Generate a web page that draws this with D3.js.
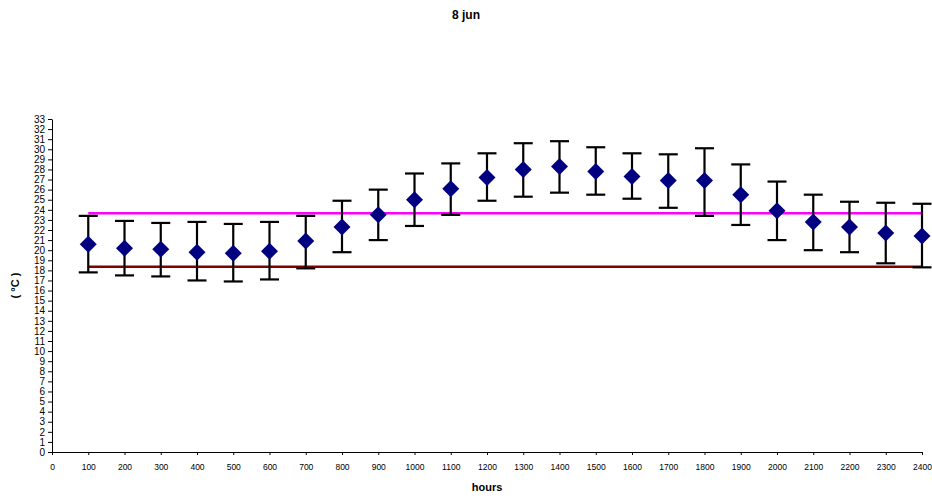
<!DOCTYPE html>
<html>
<head>
<meta charset="utf-8">
<script src="https://cdn.jsdelivr.net/npm/d3@7"></script>
<style>
  body { margin: 0; background: #fff; }
  svg { display: block; font-family: "Liberation Sans", Arial, sans-serif; }
</style>
</head>
<body>
<div id="chart"></div>
<script>
// hourly readings, 8 jun
const hours = [100, 200, 300, 400, 500, 600, 700, 800, 900, 1000, 1100, 1200,
               1300, 1400, 1500, 1600, 1700, 1800, 1900, 2000, 2100, 2200, 2300, 2400];
const mean = [20.6, 20.2, 20.1, 19.8, 19.7, 19.9, 20.9, 22.3, 23.5, 25.0, 26.1, 27.2,
              28.0, 28.3, 27.8, 27.3, 26.9, 26.9, 25.5, 23.9, 22.8, 22.3, 21.7, 21.4];
const high = [23.4, 22.9, 22.7, 22.8, 22.6, 22.8, 23.4, 24.9, 26.0, 27.6, 28.6, 29.6,
              30.6, 30.8, 30.2, 29.6, 29.5, 30.1, 28.5, 26.8, 25.5, 24.8, 24.7, 24.6];
const low = [17.8, 17.5, 17.4, 17.0, 16.9, 17.1, 18.2, 19.8, 21.0, 22.4, 23.5, 24.9,
             25.3, 25.7, 25.5, 25.1, 24.2, 23.4, 22.5, 21.0, 20.0, 19.8, 18.7, 18.3];
const upperLimit = 23.65;
const lowerLimit = 18.35;
const xTicks = d3.range(0, 2401, 100);
const yTicks = d3.range(0, 34, 1);

const width = 932, height = 498;
const margin = {top: 119, right: 10, bottom: 46, left: 52};
const w = width - margin.left - margin.right,
      h = height - margin.top - margin.bottom;

const svg = d3.select("#chart").append("svg")
    .attr("width", width)
    .attr("height", height);

const g = svg.append("g")
    .attr("transform", `translate(${margin.left},${margin.top})`);

const x = d3.scaleLinear().domain([0, 2400]).range([0, w]);
const y = d3.scaleLinear().domain([0, 33]).range([h, 0]);

// axes
const xAxis = g.append("g")
    .attr("transform", `translate(0,${h})`)
    .call(d3.axisBottom(x).tickValues(xTicks).tickFormat(d3.format("d"))
      .tickSize(3).tickSizeOuter(0).tickPadding(9));
xAxis.selectAll("text").style("font-size", "8.5px").attr("fill", "#000");

const yAxis = g.append("g")
    .call(d3.axisLeft(y).tickValues(yTicks).tickSize(4).tickSizeOuter(0).tickPadding(3));
yAxis.selectAll("text")
    .style("font-family", "'Liberation Sans Narrow', 'Liberation Sans', Arial, sans-serif")
    .style("font-size", "10px").attr("fill", "#000");

g.selectAll(".domain, .tick line").attr("stroke", "#000");

// limit lines
const limits = [{v: upperLimit, c: "#ff00ff"}, {v: lowerLimit, c: "#800000"}];
g.selectAll(".limit")
  .data(limits)
  .join("line")
    .attr("class", "limit")
    .attr("x1", x(hours[0]))
    .attr("x2", x(hours[hours.length - 1]))
    .attr("y1", d => y(d.v))
    .attr("y2", d => y(d.v))
    .attr("stroke", d => d.c)
    .attr("stroke-width", 2.5);

const data = hours.map((hr, i) => ({hr: hr, m: mean[i], lo: low[i], hi: high[i]}));

// error bars
const cap = 9.5;
const bars = g.selectAll(".err").data(data).join("g").attr("class", "err");
bars.append("line")
    .attr("x1", d => x(d.hr)).attr("x2", d => x(d.hr))
    .attr("y1", d => y(d.lo)).attr("y2", d => y(d.hi));
bars.append("line")
    .attr("x1", d => x(d.hr) - cap).attr("x2", d => x(d.hr) + cap)
    .attr("y1", d => y(d.hi)).attr("y2", d => y(d.hi));
bars.append("line")
    .attr("x1", d => x(d.hr) - cap).attr("x2", d => x(d.hr) + cap)
    .attr("y1", d => y(d.lo)).attr("y2", d => y(d.lo));
bars.selectAll("line").attr("stroke", "#000").attr("stroke-width", 2.2);

// diamond markers
const r = 8.5;
g.selectAll(".pt")
  .data(data)
  .join("path")
    .attr("class", "pt")
    .attr("d", d => {
      const cx = x(d.hr), cy = y(d.m);
      return `M${cx},${cy - r}L${cx + r},${cy}L${cx},${cy + r}L${cx - r},${cy}Z`;
    })
    .attr("fill", "#000080");

// titles
svg.append("text")
    .attr("x", 466).attr("y", 19)
    .attr("text-anchor", "middle")
    .style("font-size", "12px").style("font-weight", "bold")
    .text("8 jun");

svg.append("text")
    .attr("x", margin.left + w / 2).attr("y", 491)
    .attr("text-anchor", "middle")
    .style("font-size", "11px").style("font-weight", "bold")
    .text("hours");

svg.append("text")
    .attr("transform", `translate(19,${margin.top + h / 2}) rotate(-90)`)
    .attr("text-anchor", "middle")
    .style("font-size", "11px").style("font-weight", "bold")
    .text("( °C )");
</script>
</body>
</html>
